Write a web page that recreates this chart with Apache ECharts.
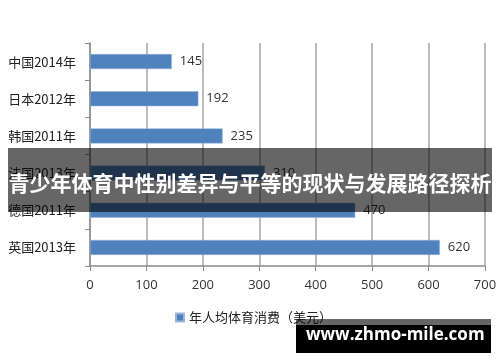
<!DOCTYPE html>
<html><head><meta charset="utf-8">
<script src="https://cdn.jsdelivr.net/npm/echarts@6/dist/echarts.min.js"></script>
<style>html,body{margin:0;padding:0;background:#fff}#c{width:500px;height:362px}</style>
</head><body><div id="c"></div>
<script>
const categories = ['中国2014年','日本2012年','韩国2011年','法国2013年','德国2011年','英国2013年'];
const values = [145, 192, 235, 310, 470, 620];
const seriesName = '年人均体育消费（美元）';
const xTicks = [0,100,200,300,400,500,600,700];
const bannerText = '青少年体育中性别差异与平等的现状与发展路径探析';
const watermark = 'www.zhmo-mile.com';

const chart = echarts.init(document.getElementById('c'), null, {renderer:'canvas'});
const numFont = '"Open Sans", "Liberation Sans", sans-serif';
const cjkFont = '"Noto Sans CJK SC", sans-serif';
chart.setOption({
  animation:false,
  grid:{left:90,right:15,top:43,bottom:96,containLabel:false},
  xAxis:{type:'value',min:xTicks[0],max:xTicks[xTicks.length-1],interval:100,
    axisLine:{show:true,lineStyle:{color:'#8c8c8c',width:1.5}},
    axisTick:{show:true,length:5,lineStyle:{color:'#8c8c8c'}},
    splitLine:{show:true,lineStyle:{color:'#a6a6a6',width:1.5}},
    axisLabel:{color:'#333',fontSize:13,fontFamily:numFont,margin:13}},
  yAxis:{type:'category',data:categories,inverse:true,
    axisLine:{show:true,lineStyle:{color:'#8c8c8c',width:1.5}},
    axisTick:{show:true,length:5,lineStyle:{color:'#8c8c8c'}},
    axisLabel:{color:'#222',fontSize:13,fontFamily:cjkFont,margin:14}},
  legend:{data:[seriesName],left:170,top:306,icon:'rect',itemWidth:8,itemHeight:8,itemGap:4,
    textStyle:{color:'#222',fontSize:13,fontFamily:cjkFont}},
  series:[{name:seriesName,type:'bar',data:values,barWidth:15,
    itemStyle:{color:'#4F81BD',borderColor:'#9ab5d8',borderWidth:0.5},
    label:{show:true,position:'right',distance:8,color:'#333',fontSize:13,fontFamily:numFont}}],
  graphic:[
    {type:'rect',left:8,top:148,shape:{width:484,height:64},style:{fill:'rgba(0,0,0,0.6)'},z:100},
    {type:'text',left:'center',top:173,style:{text:bannerText,fill:'#fff',font:'bold 21px "Noto Sans CJK SC", sans-serif'},z:101},
    {type:'rect',left:296,top:319,shape:{width:195,height:6},style:{fill:'rgba(0,0,0,0.6)'},z:100},
    {type:'rect',left:296,top:325,shape:{width:195,height:28},style:{fill:'#000'},z:100},
    {type:'text',left:306,top:327,style:{text:watermark,fill:'#fff',font:'bold 17px "Open Sans", "DejaVu Sans", sans-serif'},z:101}
  ]
});
</script></body></html>
